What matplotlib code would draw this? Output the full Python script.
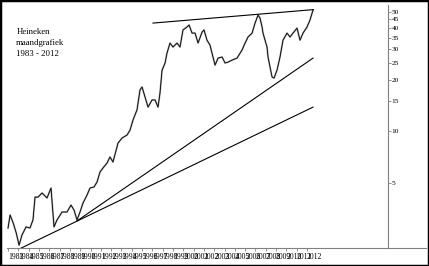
import numpy as np
import matplotlib
matplotlib.use("Agg")
import matplotlib.pyplot as plt
from matplotlib.patches import Rectangle

# Heineken monthly closes
years = [1983.0, 1983.2, 1983.5, 1983.8, 1984.07, 1984.36, 1984.75, 1985.13, 1985.42, 1985.62,
         1985.91, 1986.3, 1986.78, 1987.17, 1987.46, 1987.75, 1988.24, 1988.72, 1989.11, 1989.4,
         1989.69, 1989.98, 1990.27, 1990.66, 1990.95, 1991.34, 1991.63, 1991.92, 1992.21, 1992.6,
         1992.89, 1993.18, 1993.67, 1994.06, 1994.54, 1994.83, 1995.12, 1995.51, 1995.8, 1996.0,
         1996.29, 1996.58, 1996.97, 1997.26, 1997.55, 1997.74, 1997.94, 1998.23, 1998.42, 1998.71,
         1999.0, 1999.39, 1999.68, 1999.97, 2000.36, 2000.56, 2000.85, 2001.14, 2001.43, 2001.82,
         2002.01, 2002.3, 2002.59, 2002.88, 2003.08, 2003.37, 2003.76, 2004.05, 2004.34, 2004.73,
         2005.21, 2005.7, 2005.99, 2006.28, 2006.67, 2006.96, 2007.25, 2007.44, 2007.64, 2007.73,
         2008.12, 2008.22, 2008.41, 2008.61, 2008.8, 2009.09, 2009.38, 2009.67, 2010.06, 2010.35,
         2010.64, 2011.03, 2011.32, 2011.61, 2012.0, 2012.29, 2012.58]
close = [2.71, 3.23, 2.90, 2.53, 2.15, 2.47, 2.75, 2.71, 3.02, 4.11,
         4.11, 4.34, 4.06, 4.64, 2.75, 3.02, 3.36, 3.36, 3.69, 3.45,
         3.02, 3.36, 3.79, 4.22, 4.64, 4.71, 5.03, 5.76, 6.08, 6.50,
         7.05, 6.59, 8.51, 9.10, 9.48, 10.1, 11.6, 13.3, 17.4, 18.1,
         15.8, 13.8, 15.2, 15.2, 13.8, 16.7, 22.7, 25.0, 28.6, 32.7,
         31.0, 32.7, 31.0, 39.0, 40.6, 41.7, 37.4, 37.4, 32.7, 37.9,
         39.0, 34.0, 31.8, 27.1, 24.3, 26.7, 27.1, 25.0, 25.3, 26.0,
         26.7, 29.8, 32.7, 35.5, 37.4, 42.8, 47.7, 45.8, 40.6, 37.4,
         31.0, 27.1, 23.7, 20.7, 20.4, 22.7, 27.1, 34.0, 37.4, 35.5,
         37.4, 40.0, 34.0, 37.4, 40.6, 44.6, 51.0]

# trend lines: (year, price) end points
top_line = ([1997.06, 2012.6], [42.8, 51.3])
support_1 = ([1989.69, 2012.58], [2.98, 26.7])
support_2 = ([1984.07, 2012.58], [2.04, 13.8])

ytick_vals = [5, 10, 15, 20, 25, 30, 35, 40, 45, 50]
xtick_years = list(range(1983, 2013))

W, H = 429, 266
fig = plt.figure(figsize=(W / 100, H / 100), dpi=100)
ax = fig.add_axes([7 / W, (H - 248) / H, (426 - 7) / W, 243 / H])

ax.plot(years, close, color="#a8a8a8", lw=1.3)
ax.plot(years, close, color="black", lw=0.6)
for xs, ys in (top_line, support_1, support_2):
    ax.plot(xs, ys, color="black", lw=0.8)

ax.set_yscale("log")
ax.set_ylim(2.07, 54.6)
ax.set_xlim(1982.9, 2023.54)

for s in ("left", "top"):
    ax.spines[s].set_visible(False)
ax.spines["bottom"].set_color("#808080")
ax.spines["bottom"].set_linewidth(0.8)
ax.spines["right"].set_color("#808080")
ax.spines["right"].set_linewidth(0.8)
ax.spines["right"].set_position(("data", 2019.86))

ax.yaxis.tick_right()
ax.yaxis.set_minor_locator(matplotlib.ticker.NullLocator())
ax.set_yticks(ytick_vals)
ax.set_yticklabels([str(v) for v in ytick_vals], fontsize=5.3, family="Liberation Serif")
ax.tick_params(axis="y", length=2, pad=0.5, color="#808080", width=0.6)

ax.set_xticks(xtick_years)
ax.set_xticklabels([str(y) for y in xtick_years], fontsize=5.5, family="Liberation Serif",
                   ha="left")
ax.tick_params(axis="x", length=2, pad=1.5, color="#808080", width=0.6)

txt = dict(fontsize=6.3, family="Liberation Serif", transform=fig.transFigure, va="center")
fig.text(17 / W, 1 - 32 / H, "Heineken", **txt)
fig.text(16 / W, 1 - 43 / H, "maandgrafiek", **txt)
fig.text(16 / W, 1 - 54 / H, "1983 - 2012", **txt)

fig.patches.append(Rectangle((0, 0), 1, 1, transform=fig.transFigure, fill=False,
                             edgecolor="black", lw=2.5))

fig.savefig("out.png", dpi=100)
